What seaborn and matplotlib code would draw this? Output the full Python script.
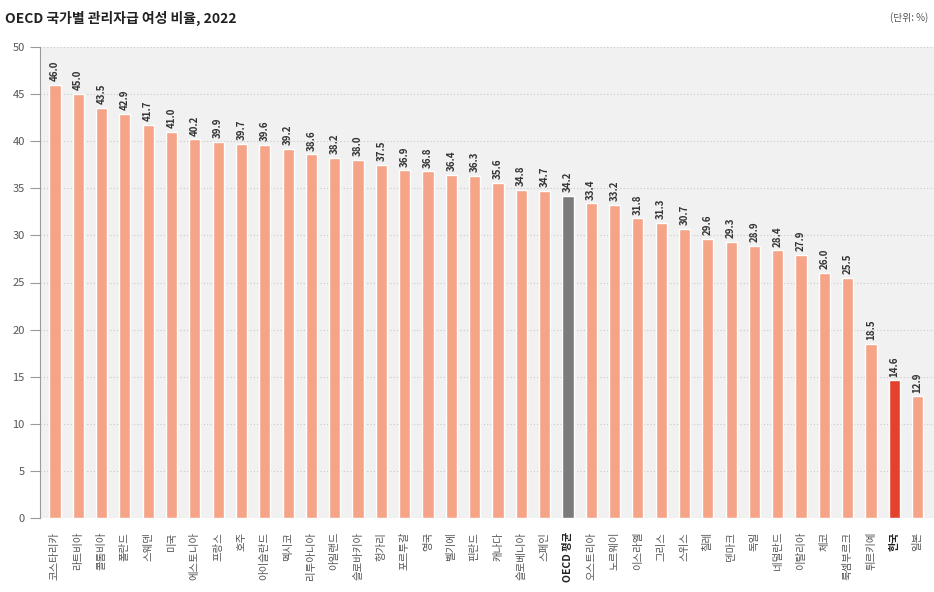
"""OECD 국가별 관리자급 여성 비율, 2022 - bar chart."""
import matplotlib
matplotlib.use("Agg")
import matplotlib.pyplot as plt
import seaborn as sns

# data
countries = ['코스타리카', '라트비아', '콜롬비아', '폴란드', '스웨덴', '미국', '에스토니아',
             '프랑스', '호주', '아이슬란드', '멕시코', '리투아니아', '아일랜드', '슬로바키아',
             '헝가리', '포르투갈', '영국', '벨기에', '핀란드', '캐나다', '슬로베니아', '스페인',
             'OECD 평균', '오스트리아', '노르웨이', '이스라엘', '그리스', '스위스', '칠레',
             '덴마크', '독일', '네덜란드', '이탈리아', '체코', '룩셈부르크', '튀르키예',
             '한국', '일본']
values = [46.0, 45.0, 43.5, 42.9, 41.7, 41.0, 40.2, 39.9, 39.7, 39.6, 39.2, 38.6,
          38.2, 38.0, 37.5, 36.9, 36.8, 36.4, 36.3, 35.6, 34.8, 34.7, 34.2, 33.4,
          33.2, 31.8, 31.3, 30.7, 29.6, 29.3, 28.9, 28.4, 27.9, 26.0, 25.5, 18.5,
          14.6, 12.9]
y_ticks = [0, 5, 10, 15, 20, 25, 30, 35, 40, 45, 50]

sns.set_theme(style='white')
plt.rcParams['font.family'] = ['Noto Sans CJK KR', 'DejaVu Sans']

base, avg_col, kor_col = '#f5a488', '#7b7b7b', '#e4412f'
colors = {c: (avg_col if c == 'OECD 평균' else kor_col if c == '한국' else base)
          for c in countries}

fig = plt.figure(figsize=(9.34, 5.92), dpi=100)
ax = fig.add_axes([40 / 934, 74 / 592, 894 / 934, 471 / 592])
ax.set_facecolor('#f1f1f1')

sns.barplot(x=countries, y=values, hue=countries, palette=colors, legend=False,
            width=0.48, saturation=1, ax=ax)

ax.set_xlim(-0.64, 37.7)
ax.set_ylim(0, 50)
ax.set_yticks(y_ticks)
ax.yaxis.grid(True, linestyle=(0, (1, 2)), color='#c8c8c8', linewidth=0.8)
ax.set_axisbelow(True)
for s in ['top', 'right', 'bottom']:
    ax.spines[s].set_visible(False)
ax.spines['left'].set_color('#9a9a9a')
ax.spines['left'].set_linewidth(0.8)
ax.tick_params(axis='y', left=True, length=7, width=0.8, color='#9a9a9a',
               labelsize=8, labelcolor='#555555', pad=4)
ax.tick_params(axis='x', bottom=False, labelsize=7.5, labelcolor='#555555', pad=4)
plt.setp(ax.get_xticklabels(), rotation=90)
for lab in ax.get_xticklabels():
    if lab.get_text() in ('OECD 평균', '한국'):
        lab.set_fontweight('bold')
        lab.set_color('#222222')
ax.set_xlabel('')
ax.set_ylabel('')

for i, v in enumerate(values):
    ax.text(i, v + 0.4, f'{v:.1f}', rotation=90, ha='center', va='bottom',
            fontsize=7, fontweight='bold', color='#333333')

fig.text(5 / 934, 1 - 18 / 592, 'OECD 국가별 관리자급 여성 비율, 2022', fontsize=10,
         fontweight='bold', color='#222222', va='center', ha='left')
fig.text(928 / 934, 1 - 18 / 592, '(단위: %)', fontsize=7, color='#555555',
         va='center', ha='right')

fig.savefig('out.png', dpi=100)
